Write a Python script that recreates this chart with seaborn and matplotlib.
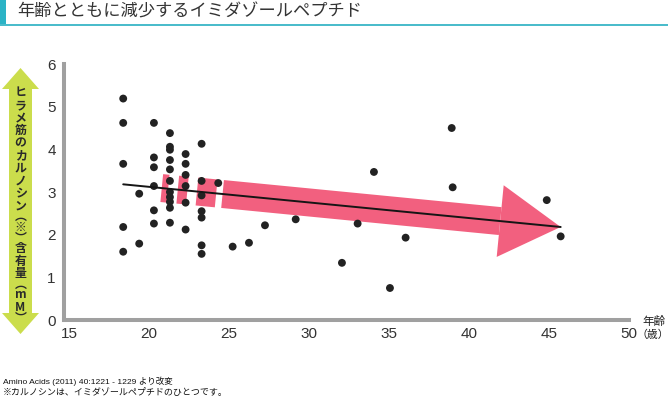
import numpy as np
import pandas as pd
import seaborn as sns
import matplotlib.pyplot as plt
from matplotlib.patches import Polygon, Rectangle

# data
age = [18.39, 18.39, 20.31, 21.31, 23.29, 21.31, 21.31, 22.29, 20.31, 21.31,
       18.39, 22.29, 20.31, 21.31, 22.29, 21.31, 23.29, 24.33, 20.31, 22.29,
       19.39, 21.31, 21.31, 23.29, 21.31, 22.29, 21.31, 20.31, 23.29, 23.29,
       18.39, 20.31, 21.31, 22.29, 19.39, 18.39, 23.29, 23.29, 25.23, 26.25,
       27.25, 29.17, 34.06, 33.04, 32.06, 36.04, 35.06, 38.92, 38.98, 44.86,
       45.73]
carnosine = [5.19, 4.62, 4.62, 4.38, 4.13, 4.06, 3.99, 3.89, 3.81, 3.75,
             3.66, 3.66, 3.58, 3.53, 3.40, 3.26, 3.26, 3.21, 3.14, 3.14,
             2.96, 3.00, 2.88, 2.92, 2.77, 2.75, 2.63, 2.57, 2.55, 2.40,
             2.18, 2.26, 2.28, 2.12, 1.79, 1.60, 1.75, 1.55, 1.72, 1.81,
             2.22, 2.36, 3.47, 2.26, 1.34, 1.93, 0.75, 4.50, 3.11, 2.81,
             1.96]
trend_x = [18.39, 45.73]
trend_y = [3.18, 2.18]
# pink arrow: shaft pieces (start, end in age) and head base
shaft_pieces = [(20.8, 21.2), (21.8, 22.4), (23.0, 24.2), (24.6, 41.95)]
head_base = 41.95

xticks = [15, 20, 25, 30, 35, 40, 45, 50]
yticks = [0, 1, 2, 3, 4, 5, 6]
title = "年齢とともに減少するイミダゾールペプチド"
ylabel = "ヒラメ筋のカルノシン︵※︶含有量︵mM︶"

sns.set_theme(style="white")
plt.rcParams['font.family'] = ['Noto Sans CJK JP', 'DejaVu Sans']

W, H = 668, 397
fig = plt.figure(figsize=(W / 100, H / 100), dpi=100)
ax = fig.add_axes([64 / W, (H - 320) / H, 565 / W, 256 / H])
ax.set_xlim(14.69, 50)
ax.set_ylim(0, 6)

df = pd.DataFrame({"age": age, "carnosine": carnosine})
sns.scatterplot(data=df, x="age", y="carnosine", ax=ax, color="#222222",
                s=32, edgecolor="none", zorder=3)
sns.lineplot(x=trend_x, y=trend_y, ax=ax, color="#151515", lw=1.4, zorder=4)

# arrow built in pixel space along the trend line
fig.canvas.draw()
p0 = ax.transData.transform((trend_x[0], trend_y[0]))
p1 = ax.transData.transform((trend_x[1], trend_y[1]))
d = (p1 - p0) / np.linalg.norm(p1 - p0)
n = np.array([-d[1], d[0]])
slope = (trend_y[1] - trend_y[0]) / (trend_x[1] - trend_x[0])


def on_line(xv):
    return ax.transData.transform((xv, trend_y[0] + slope * (xv - trend_x[0])))


inv = ax.transData.inverted()
pink = "#f2607f"
hw = 14
for a, b in shaft_pieces:
    pa, pb = on_line(a), on_line(b)
    pts = [pa + hw * n, pb + hw * n, pb - hw * n, pa - hw * n]
    ax.add_patch(Polygon(inv.transform(pts), closed=True, color=pink, lw=0, zorder=1))
pb = on_line(head_base)
head = [pb + 36 * n, p1, pb - 36 * n]
ax.add_patch(Polygon(inv.transform(head), closed=True, color=pink, lw=0, zorder=1))

ax.set_xticks(xticks)
ax.set_yticks(yticks)
ax.set_xlabel("")
ax.set_ylabel("")
for s in ["top", "right"]:
    ax.spines[s].set_visible(False)
for s in ["left", "bottom"]:
    ax.spines[s].set_color("#a0a0a0")
    ax.spines[s].set_linewidth(2.9)
ax.tick_params(direction="in", length=6, width=1.1, color="#a0a0a0",
               labelsize=11, labelcolor="#333333", pad=5)
ax.tick_params(axis="y", pad=6)
for lab in ax.get_xticklabels() + ax.get_yticklabels():
    lab.set_fontfamily(['Liberation Sans', 'DejaVu Sans'])

# title bar
fig.patches.append(Rectangle((0, 1 - 26 / H), 6 / W, 26 / H, transform=fig.transFigure,
                             color="#2bb3c6", lw=0))
fig.patches.append(Rectangle((0, 1 - 26 / H), 1, 2.2 / H, transform=fig.transFigure,
                             color="#4bbccb", lw=0))
fig.text(17 / W, 1 - 12 / H, title, fontsize=12.4, color="#333333", va="center", ha="left")

# y label arrow
cx, top, bot = 20.5, 68, 334
sw, hh, hl = 11.5, 18.5, 21
arrow_px = [(cx, top), (cx + hh, top + hl), (cx + sw, top + hl), (cx + sw, bot - hl),
            (cx + hh, bot - hl), (cx, bot), (cx - hh, bot - hl), (cx - sw, bot - hl),
            (cx - sw, top + hl), (cx - hh, top + hl)]
arrow_fig = [(x / W, 1 - y / H) for x, y in arrow_px]
fig.patches.append(Polygon(arrow_fig, closed=True, transform=fig.transFigure,
                           color="#cbdd4c", lw=0))

# vertical label, one character per text
ypos = 88
for ch in ylabel:
    step = 8.5 if ch in "︵︶" else 12.6
    fig.text(cx / W, 1 - (ypos + step / 2 - 1.5) / H, ch, fontsize=8.6, fontweight="bold",
             color="#2a2a2a", ha="center", va="center")
    ypos += step

# x label
fig.text(654 / W, 1 - 322 / H, "年齢", fontsize=8.3, color="#222222", ha="center", va="center")
fig.text(652.5 / W, 1 - 335 / H, "（歳）", fontsize=7.8, color="#222222", ha="center", va="center")

# footnotes
fig.text(3 / W, 1 - 381 / H, "Amino Acids (2011) 40:1221 - 1229 より改変", fontsize=6.1,
         color="#111111", ha="left", va="center",
         family=['Liberation Sans', 'Noto Sans CJK JP'])
fig.text(3 / W, 1 - 392.5 / H, "※カルノシンは、イミダゾールペプチドのひとつです。",
         fontsize=6.5, color="#111111", ha="left", va="center")

fig.savefig("out.png", dpi=100)
